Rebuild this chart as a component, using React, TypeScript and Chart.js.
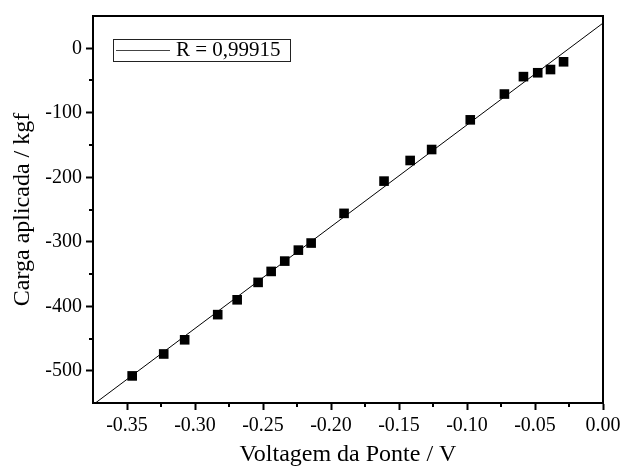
import { useEffect, useRef } from 'react';
import { Chart, registerables } from 'chart.js';

Chart.register(...registerables);

// Measured data: bridge voltage (V) vs applied load (kgf)
const voltage = [
  -0.3462, -0.323, -0.3076, -0.2833, -0.269, -0.2536, -0.244, -0.234, -0.224, -0.2146,
  -0.1904, -0.161, -0.1418, -0.126, -0.0976, -0.0725, -0.0585, -0.048, -0.0386, -0.029,
];
const load = [
  -508, -474, -452, -413, -390, -363, -346, -330, -313, -302,
  -256, -206, -174, -157, -111, -71, -44, -38, -33, -21,
];

// Linear fit
const fitSlope = 1578;
const fitIntercept = 39;
const fitRange = [-0.375, 0];
const legendLabel = 'R = 0,99915';

// Axes
const xMin = -0.375;
const xMax = 0;
const yMin = -550;
const yMax = 50;
const xTicks = [-0.35, -0.3, -0.25, -0.2, -0.15, -0.1, -0.05, 0];
const xMinorTicks = [-0.325, -0.275, -0.225, -0.175, -0.125, -0.075, -0.025];
const yTicks = [-500, -400, -300, -200, -100, 0];
const yMinorTicks = [-450, -350, -250, -150, -50];
const xTitle = 'Voltagem da Ponte / V';
const yTitle = 'Carga aplicada / kgf';

const FONT = "'Liberation Serif', 'Times New Roman', serif";

const framePlugin = {
  id: 'frameAndLegend',
  afterDraw(chart: any) {
    const { ctx, chartArea } = chart;
    const xs = chart.scales.x;
    const ys = chart.scales.y;
    ctx.save();
    // top and right frame
    ctx.strokeStyle = '#000';
    ctx.lineWidth = 2;
    ctx.beginPath();
    ctx.moveTo(chartArea.left - 1, chartArea.top);
    ctx.lineTo(chartArea.right, chartArea.top);
    ctx.lineTo(chartArea.right, chartArea.bottom + 1);
    ctx.stroke();
    // minor ticks
    ctx.lineWidth = 2;
    ctx.beginPath();
    xMinorTicks.forEach((v) => {
      const px = Math.round(xs.getPixelForValue(v));
      ctx.moveTo(px, chartArea.bottom);
      ctx.lineTo(px, chartArea.bottom + 4);
    });
    yMinorTicks.forEach((v) => {
      const py = Math.round(ys.getPixelForValue(v));
      ctx.moveTo(chartArea.left, py);
      ctx.lineTo(chartArea.left - 4, py);
    });
    ctx.stroke();
    // legend box
    const lx = chartArea.left + 20;
    const ly = chartArea.top + 23;
    const lw = 177;
    const lh = 22;
    ctx.lineWidth = 1;
    ctx.strokeStyle = '#222';
    ctx.strokeRect(lx + 0.5, ly + 0.5, lw, lh);
    ctx.strokeStyle = '#444';
    ctx.beginPath();
    ctx.moveTo(lx + 3, ly + 11.5);
    ctx.lineTo(lx + 57, ly + 11.5);
    ctx.stroke();
    ctx.fillStyle = '#000';
    ctx.font = `21px ${FONT}`;
    ctx.textBaseline = 'alphabetic';
    ctx.textAlign = 'left';
    ctx.fillText(legendLabel, lx + 63, ly + 17);
    ctx.restore();
  },
};

export default function App() {
  const canvasRef = useRef<HTMLCanvasElement | null>(null);

  useEffect(() => {
    if (!canvasRef.current) return;
    const points = voltage.map((v, i) => ({ x: v, y: load[i] }));
    const fitPoints = fitRange.map((v) => ({ x: v, y: fitIntercept + fitSlope * v }));
    const chart = new Chart(canvasRef.current, {
      type: 'scatter',
      data: {
        datasets: [
          {
            type: 'line',
            label: 'fit',
            data: fitPoints,
            borderColor: '#000',
            borderWidth: 1,
            pointRadius: 0,
            fill: false,
          },
          {
            label: 'data',
            data: points,
            pointStyle: 'rect',
            pointRadius: 6.8,
            backgroundColor: '#000',
            borderWidth: 0,
          },
        ],
      },
      options: {
        animation: false,
        responsive: true,
        maintainAspectRatio: false,
        layout: { padding: { top: 10, right: 30, left: 0, bottom: 0 } },
        plugins: {
          legend: { display: false },
          tooltip: { enabled: false },
        },
        scales: {
          x: {
            type: 'linear',
            min: xMin,
            max: xMax,
            afterBuildTicks: (scale: any) => {
              scale.ticks = xTicks.map((v) => ({ value: v }));
            },
            afterFit: (scale: any) => {
              scale.height = 64;
            },
            ticks: {
              color: '#000',
              font: { family: FONT, size: 20 },
              padding: 4,
              maxRotation: 0,
              autoSkip: false,
              callback: (v: any) => Number(v).toFixed(2),
            },
            grid: {
              display: true,
              drawOnChartArea: false,
              drawTicks: true,
              tickLength: 7,
              tickWidth: 2,
              tickColor: '#000',
            },
            border: { display: true, color: '#000', width: 2 },
            title: {
              display: true,
              text: xTitle,
              color: '#000',
              font: { family: FONT, size: 24, lineHeight: 1.0 },
              padding: { top: 0, bottom: 0 },
            },
          },
          y: {
            type: 'linear',
            min: yMin,
            max: yMax,
            afterBuildTicks: (scale: any) => {
              scale.ticks = yTicks.map((v) => ({ value: v }));
            },
            afterFit: (scale: any) => {
              scale.width = 93;
            },
            ticks: {
              color: '#000',
              font: { family: FONT, size: 20 },
              padding: 4,
              autoSkip: false,
              callback: (v: any) => String(v),
            },
            grid: {
              display: true,
              drawOnChartArea: false,
              drawTicks: true,
              tickLength: 7,
              tickWidth: 2,
              tickColor: '#000',
            },
            border: { display: true, color: '#000', width: 2 },
            title: {
              display: true,
              text: yTitle,
              color: '#000',
              font: { family: FONT, size: 24, lineHeight: 1.0 },
              padding: { top: 11, bottom: 0 },
            },
          },
        },
      },
      plugins: [framePlugin],
    });
    return () => chart.destroy();
  }, []);

  return (
    <div style={{ position: 'absolute', left: 0, top: 0, width: 633, height: 467, background: '#fff' }}>
      <canvas ref={canvasRef} />
    </div>
  );
}
